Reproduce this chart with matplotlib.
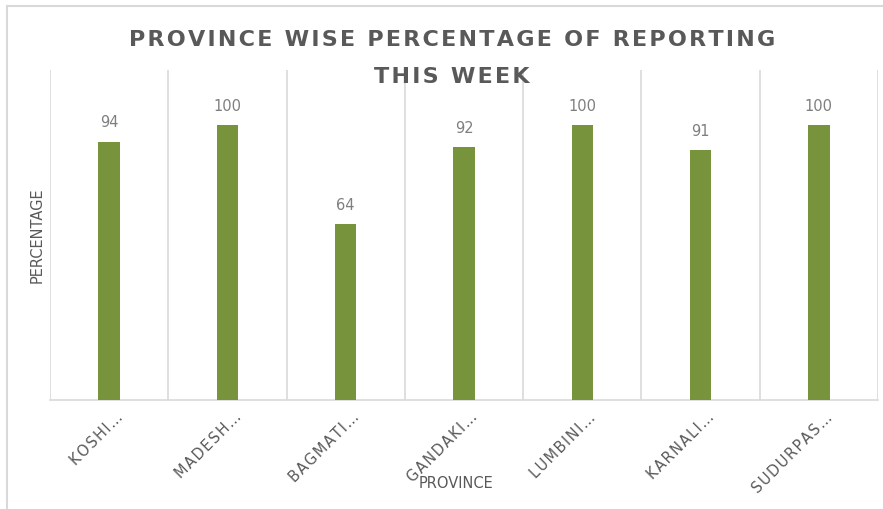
import matplotlib
matplotlib.use("Agg")
import matplotlib.pyplot as plt
import matplotlib.transforms as mtransforms
from matplotlib.lines import Line2D

# data
provinces = ['KOSHI', 'MADESH', 'BAGMATI', 'GANDAKI', 'LUMBINI', 'KARNALI', 'SUDURPAS']
percentages = [94, 100, 64, 92, 100, 91, 100]
title_lines = ['PROVINCE WISE PERCENTAGE OF REPORTING', 'THIS WEEK']

W, H = 883, 509
fig = plt.figure(figsize=(W / 100, H / 100), dpi=100)

# axes box in pixels: left 50, right 878, top 70, bottom 400
ax = fig.add_axes([50 / W, 1 - 400 / H, (878 - 50) / W, (400 - 70) / H])

x = list(range(len(provinces)))
ax.bar(x, percentages, width=0.18, color='#77933C', zorder=3)

ax.set_xlim(-0.5, len(provinces) - 0.5)
ax.set_ylim(0, 120)

# vertical gridlines between categories
for b in range(len(provinces) + 1):
    ax.axvline(b - 0.5, color='#D9D9D9', lw=1.2, zorder=1)

for s in ['top', 'left', 'right']:
    ax.spines[s].set_visible(False)
ax.spines['bottom'].set_color('#D9D9D9')
ax.spines['bottom'].set_linewidth(1.2)
ax.set_yticks([])

def spaced(t, sep='\u2009'):
    return sep.join(t)

ax.set_xticks(x)
ax.set_xticklabels([spaced(p + '…', '\u200a') for p in provinces], rotation=45,
                   ha='right', va='top', rotation_mode='anchor', fontsize=10.5,
                   color='#595959')
ax.tick_params(axis='x', length=0, pad=7)
shift = mtransforms.ScaledTranslation(6 / 100, 0, fig.dpi_scale_trans)
for lbl in ax.get_xticklabels():
    lbl.set_transform(lbl.get_transform() + shift)

# data labels
for xi, v in zip(x, percentages):
    ax.annotate(str(v), (xi, v), xytext=(0, 8), textcoords='offset points',
                ha='center', va='bottom', fontsize=10.5, color='#7F7F7F')

# title, letter spaced
for txt, ypx in zip(title_lines, [40, 77]):
    fig.text(452 / W, 1 - ypx / H, spaced(txt, '\u200a'), ha='center', va='center',
             fontsize=16, fontweight='bold', color='#595959')

fig.text(456 / W, 1 - 483 / H, 'PROVINCE', ha='center', va='center',
         fontsize=10.5, color='#595959')
fig.text(37 / W, 1 - 235 / H, 'PERCENTAGE', ha='center', va='center',
         rotation=90, fontsize=10.5, color='#595959')

# outer chart frame (only top and left visible)
fig.add_artist(Line2D([7 / W, 1], [1 - 6 / H, 1 - 6 / H], color='#D9D9D9', lw=1.5))
fig.add_artist(Line2D([7 / W, 7 / W], [0, 1 - 6 / H], color='#D9D9D9', lw=1.5))

fig.savefig('out.png', dpi=100)
